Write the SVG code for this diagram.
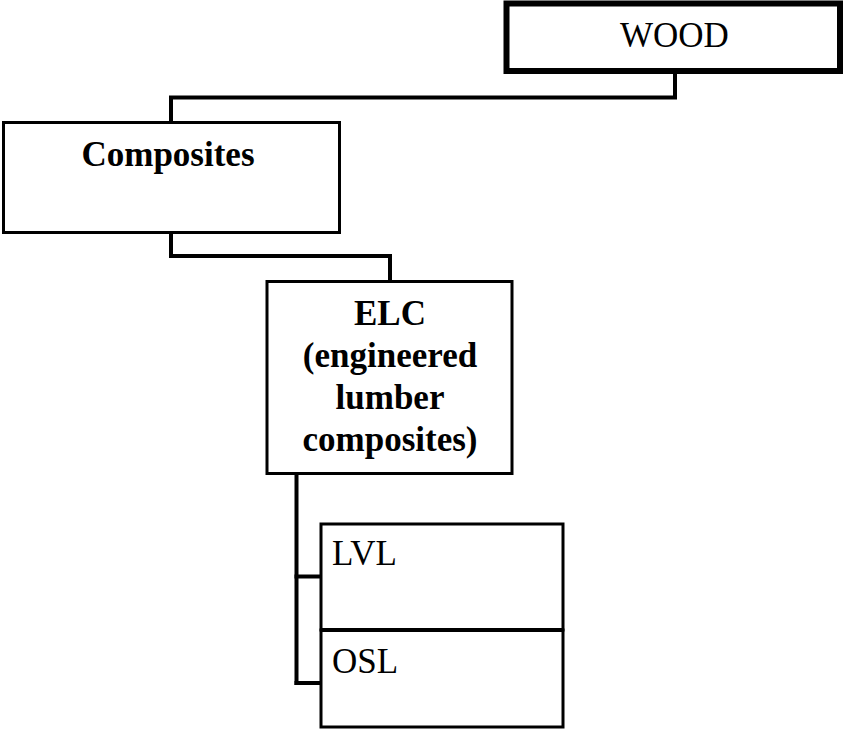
<svg xmlns="http://www.w3.org/2000/svg" width="846" height="738" viewBox="0 0 846 738">
<style>
.box{fill:#fff;stroke:#000;stroke-width:3}
.conn{fill:none;stroke:#000;stroke-width:4;stroke-linejoin:miter;stroke-linecap:square}
.t{font-family:"Liberation Serif","Times New Roman",serif;font-size:35px;fill:#000}
.b{font-weight:bold;text-anchor:middle}
</style>
<rect x="0" y="0" width="846" height="738" fill="#fff"/>
<g id="connectors">
<polyline class="conn" points="675,73 675,97.5 171,97.5 171,122"/>
<polyline class="conn" points="171,233 171,256 390,256 390,281"/>
<polyline class="conn" points="296.5,474 296.5,683"/>
<line class="conn" x1="296.5" y1="576.5" x2="320" y2="576.5"/>
<line class="conn" x1="296.5" y1="683" x2="320" y2="683"/>
</g>
<g id="wood">
<rect x="506.5" y="3.5" width="333.5" height="67.5" fill="#fff" stroke="#000" stroke-width="6"/>
<text class="t" x="620" y="47">WOOD</text>
</g>
<g id="composites">
<rect class="box" x="3.5" y="122.5" width="336" height="110"/>
<text class="t b" x="168" y="166">Composites</text>
</g>
<g id="elc">
<rect class="box" x="267" y="281.5" width="245" height="192"/>
<text class="t b" x="390" y="325">ELC</text>
<text class="t b" x="390" y="367">(engineered</text>
<text class="t b" x="390" y="409">lumber</text>
<text class="t b" x="390" y="451">composites)</text>
</g>
<g id="lvl">
<rect class="box" x="321" y="524" width="242" height="106"/>
<text class="t" x="332" y="565">LVL</text>
</g>
<g id="osl">
<rect class="box" x="321" y="630" width="242" height="97"/>
<line x1="321" y1="630" x2="563" y2="630" stroke="#000" stroke-width="4"/>
<text class="t" x="332" y="673">OSL</text>
</g>
</svg>
